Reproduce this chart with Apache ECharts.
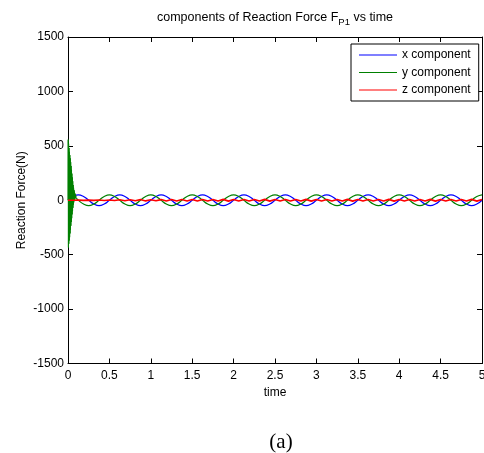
<!DOCTYPE html>
<html><head><meta charset="utf-8">
<script src="https://cdn.jsdelivr.net/npm/echarts@6/dist/echarts.min.js"></script>
<style>html,body{margin:0;padding:0;background:#fff}#c{width:484px;height:453px}</style>
</head><body><div id="c"></div>
<script>
// ---- data ----
const seriesNames = ['x component', 'y component', 'z component'];
const time = [
  0, 0.0625, 0.125, 0.1875, 0.25, 0.3125, 0.375, 0.4375,
  0.5, 0.5625, 0.625, 0.6875, 0.75, 0.8125, 0.875, 0.9375,
  1, 1.0625, 1.125, 1.1875, 1.25, 1.3125, 1.375, 1.4375,
  1.5, 1.5625, 1.625, 1.6875, 1.75, 1.8125, 1.875, 1.9375,
  2, 2.0625, 2.125, 2.1875, 2.25, 2.3125, 2.375, 2.4375,
  2.5, 2.5625, 2.625, 2.6875, 2.75, 2.8125, 2.875, 2.9375,
  3, 3.0625, 3.125, 3.1875, 3.25, 3.3125, 3.375, 3.4375,
  3.5, 3.5625, 3.625, 3.6875, 3.75, 3.8125, 3.875, 3.9375,
  4, 4.0625, 4.125, 4.1875, 4.25, 4.3125, 4.375, 4.4375,
  4.5, 4.5625, 4.625, 4.6875, 4.75, 4.8125, 4.875, 4.9375,
  5
];
const xComp = [
  0, 35, 50, 35, 0, -35, -50, -35,
  0, 35, 50, 35, 0, -35, -50, -35,
  0, 35, 50, 35, 0, -35, -50, -35,
  0, 35, 50, 35, 0, -35, -50, -35,
  0, 35, 50, 35, 0, -35, -50, -35,
  0, 35, 50, 35, 0, -35, -50, -35,
  0, 35, 50, 35, 0, -35, -50, -35,
  0, 35, 50, 35, 0, -35, -50, -35,
  0, 35, 50, 35, 0, -35, -50, -35,
  0, 35, 50, 35, 0, -35, -50, -35,
  0
];
const yComp = [
  50, 35, 0, -35, -50, -35, 0, 35,
  50, 35, 0, -35, -50, -35, 0, 35,
  50, 35, 0, -35, -50, -35, 0, 35,
  50, 35, 0, -35, -50, -35, 0, 35,
  50, 35, 0, -35, -50, -35, 0, 35,
  50, 35, 0, -35, -50, -35, 0, 35,
  50, 35, 0, -35, -50, -35, 0, 35,
  50, 35, 0, -35, -50, -35, 0, 35,
  50, 35, 0, -35, -50, -35, 0, 35,
  50, 35, 0, -35, -50, -35, 0, 35,
  50
];
const zComp = [
  0, 0, 1, -1, 1, -1, 2, -2,
  3, -3, 4, -4, 5, -5, 6, -6,
  5, -5, 6, -6, 7, -7, 6, -6,
  7, -7, 6, -6, 7, -7, 8, -8,
  7, -7, 6, -6, 7, -7, 8, -8,
  7, -7, 6, -6, 7, -7, 8, -8,
  7, -7, 6, -6, 7, -7, 8, -8,
  7, -7, 6, -6, 7, -7, 8, -8,
  7, -7, 6, -6, 7, -7, 8, -8,
  7, -7, 6, -6, 7, -7, 8, -8,
  7
];
// start-up transient of the y component
const yTransientTime = [
  0, 0.0025, 0.005, 0.0075, 0.01, 0.0125, 0.015, 0.0175,
  0.02, 0.0225, 0.025, 0.0275, 0.03, 0.0325, 0.035, 0.0375,
  0.04, 0.0425, 0.045, 0.0475, 0.05, 0.0525, 0.055, 0.0575,
  0.06, 0.0625, 0.065, 0.0675, 0.07, 0.0725, 0.075, 0.0775,
  0.08, 0.0825, 0.085, 0.0875, 0.09, 0.0925, 0.095, 0.0975,
  0.1
];
const yTransientValue = [
  0, 557, -434, 520, -400, 480, -370, 445,
  -340, 415, -305, 385, -270, 350, -235, 315,
  -200, 280, -165, 245, -130, 210, -100, 175,
  -70, 140, -40, 115, -20, 95, -5, 80,
  5, 65, 15, 55, 20, 45, 22, 35,
  20
];
const xTickInterval = 0.5;
const yTickInterval = 500;

// ---- chart ----
const FONT = 'Liberation Sans';
const pairs = (ts, vs) => ts.map((t, i) => [t, vs[i]]);
const transient = pairs(yTransientTime, yTransientValue);
const tEnd = yTransientTime[yTransientTime.length - 1];
const yMain = [transient[transient.length - 1]].concat(pairs(time, yComp).filter(p => p[0] > tEnd));

const axisLine = { show: true, onZero: false, lineStyle: { color: '#000', width: 1 } };
const axisTick = { show: true, inside: true, length: 5, lineStyle: { color: '#000', width: 1 } };
const lbl = { color: '#000', fontSize: 12, fontFamily: FONT };

const chart = echarts.init(document.getElementById('c'), null, { renderer: 'canvas' });
chart.setOption({
  animation: false,
  backgroundColor: '#fff',
  title: {
    text: '{a|components of Reaction Force F}{s|P1}{a| vs time}',
    left: 275, top: 6, textAlign: 'center',
    textStyle: {
      fontSize: 12.5, fontFamily: FONT, color: '#000', fontWeight: 'normal',
      rich: {
        a: { fontSize: 12.5, fontFamily: FONT, color: '#000', lineHeight: 14, verticalAlign: 'top' },
        s: { fontSize: 9.5, fontFamily: FONT, color: '#000', lineHeight: 10, padding: [6, 0, 0, 0], verticalAlign: 'top' }
      }
    }
  },
  legend: {
    data: seriesNames,
    orient: 'vertical',
    left: 351, top: 44,
    padding: [5, 8, 5, 8],
    itemWidth: 38, itemHeight: 1.2, itemGap: 5.5, itemTextGap: 4,
    icon: 'rect',
    backgroundColor: '#fff', borderColor: '#000', borderWidth: 1, borderRadius: 0,
    textStyle: { color: '#000', fontSize: 12, fontFamily: FONT }
  },
  grid: { left: 68, top: 37, right: 2, bottom: 89.5, containLabel: false, outerBoundsMode: 'none' },
  xAxis: [
    {
      type: 'value', min: 0, max: 5, interval: xTickInterval, position: 'bottom',
      axisLine, axisTick, splitLine: { show: false },
      axisLabel: Object.assign({ margin: 6, formatter: v => String(v) }, lbl),
      name: 'time', nameLocation: 'middle', nameGap: 23, nameMoveOverlap: false, nameTextStyle: lbl
    },
    {
      type: 'value', min: 0, max: 5, interval: xTickInterval, position: 'top',
      axisLine, axisTick, splitLine: { show: false }, axisLabel: { show: false }
    }
  ],
  yAxis: [
    {
      type: 'value', min: -1500, max: 1500, interval: yTickInterval, position: 'left',
      axisLine, axisTick, splitLine: { show: false },
      axisLabel: Object.assign({ margin: 4, formatter: v => String(v) }, lbl),
      name: 'Reaction Force(N)', nameLocation: 'middle', nameGap: 40, nameMoveOverlap: false, nameTextStyle: lbl
    },
    {
      type: 'value', min: -1500, max: 1500, interval: yTickInterval, position: 'right',
      axisLine, axisTick, splitLine: { show: false }, axisLabel: { show: false }
    }
  ],
  series: [
    {
      name: seriesNames[0], type: 'line', data: pairs(time, xComp), smooth: true,
      showSymbol: false, symbol: 'none', color: '#0000ff', lineStyle: { color: '#0000ff', width: 1.2 }
    },
    {
      name: seriesNames[1], type: 'line', data: transient, smooth: false,
      showSymbol: false, symbol: 'none', color: '#008000', lineStyle: { color: '#008000', width: 1 }
    },
    {
      name: seriesNames[1], type: 'line', data: yMain, smooth: true,
      showSymbol: false, symbol: 'none', color: '#008000', lineStyle: { color: '#008000', width: 1.2 }
    },
    {
      name: seriesNames[2], type: 'line', data: pairs(time, zComp), smooth: false,
      showSymbol: false, symbol: 'none', color: '#ff0000', lineStyle: { color: '#ff0000', width: 1.6 }
    }
  ],
  graphic: [
    {
      type: 'text', x: 281, y: 442,
      style: { text: '(a)', font: '21px "Liberation Serif"', align: 'center', verticalAlign: 'middle', fill: '#000' }
    }
  ]
});
chart.setOption({ title: { left: 270 } });
</script>
</body></html>
